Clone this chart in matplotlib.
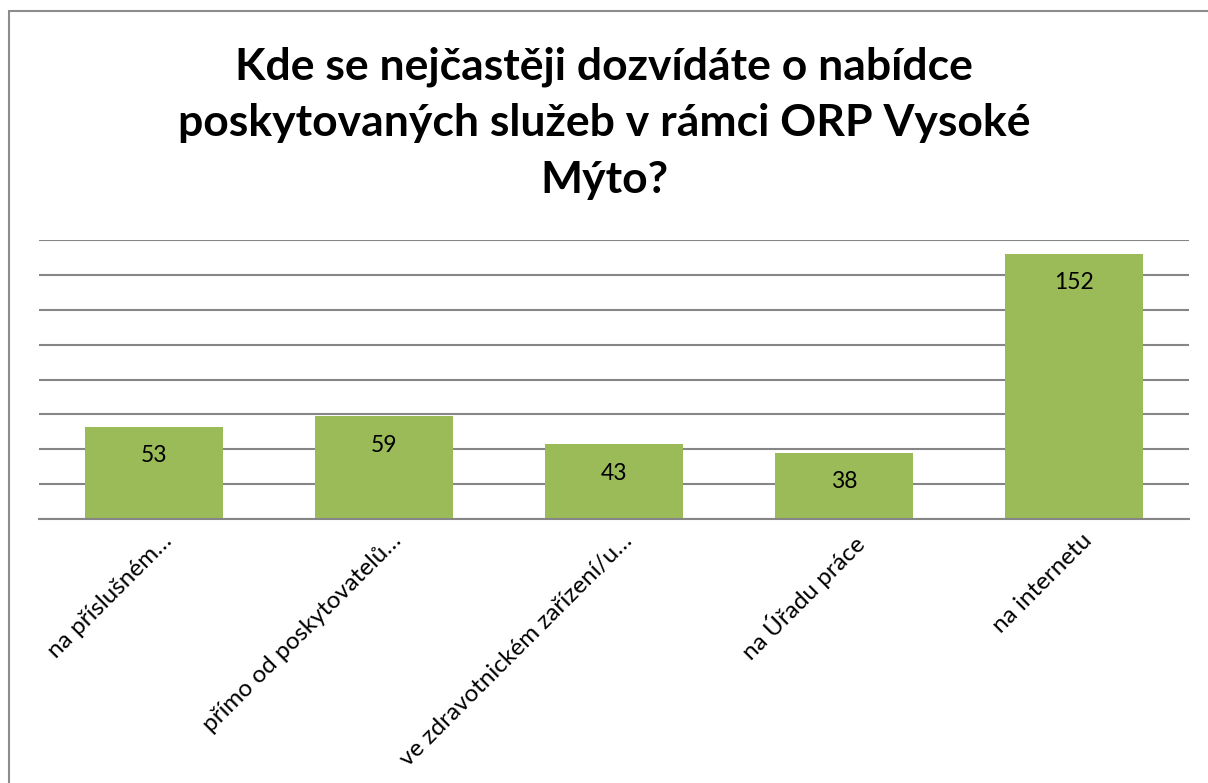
import matplotlib
matplotlib.use("Agg")
import matplotlib.pyplot as plt
import matplotlib.transforms as mtransforms
from matplotlib.patches import Rectangle

# data
categories = ["na příslušném…", "přímo od poskytovatelů…", "ve zdravotnickém zařízení/u…",
              "na Úřadu práce", "na internetu"]
values = [53, 59, 43, 38, 152]
title = "Kde se nejčastěji dozvídáte o nabídce\nposkytovaných služeb v rámci ORP Vysoké\nMýto?"

plt.rcParams['font.family'] = ['Lato', 'DejaVu Sans']

W, H = 1208, 783
fig = plt.figure(figsize=(W / 100, H / 100), dpi=100)

# outer chart frame (only left and top edge visible)
fig.patches.append(Rectangle((9 / W, -0.1), 1.2, 1.1 - 11 / H, transform=fig.transFigure,
                             fill=False, edgecolor='#8c8c8c', linewidth=1.5))

ax = fig.add_axes([39 / W, 1 - 519 / H, 1150 / W, 279 / H])
x = range(len(values))
bars = ax.bar(x, values, width=0.6, color='#9bbb59', zorder=3)
ax.set_xlim(-0.5, len(values) - 0.5)
ax.set_ylim(0, 160)
ax.set_yticks(range(0, 161, 20))
ax.yaxis.grid(True, color='#868686', linewidth=1.5, zorder=0)
ax.tick_params(axis='y', left=False, labelleft=False)
ax.tick_params(axis='x', length=0, pad=8)
for s in ['top', 'right', 'left']:
    ax.spines[s].set_visible(False)
ax.spines['bottom'].set_color('#868686')
ax.spines['bottom'].set_linewidth(1.5)
ax.spines['bottom'].set_zorder(4)

ax.set_xticks(list(x))
ax.set_xticklabels(categories, rotation=45, ha='right', va='top', rotation_mode='anchor',
                   fontsize=17.5)
shift = mtransforms.ScaledTranslation(7 / 100, 0, fig.dpi_scale_trans)
for lbl in ax.get_xticklabels():
    lbl.set_transform(lbl.get_transform() + shift)

for b, v in zip(bars, values):
    ax.annotate(str(v), (b.get_x() + b.get_width() / 2, v), xytext=(0, -29),
                textcoords='offset pixels', ha='center', va='center', fontsize=16.5, zorder=5)

fig.text(0.5, 1 - 123 / H, title, ha='center', va='center', fontsize=32, fontweight='bold',
         linespacing=1.5)

fig.savefig("out.png", dpi=100)
